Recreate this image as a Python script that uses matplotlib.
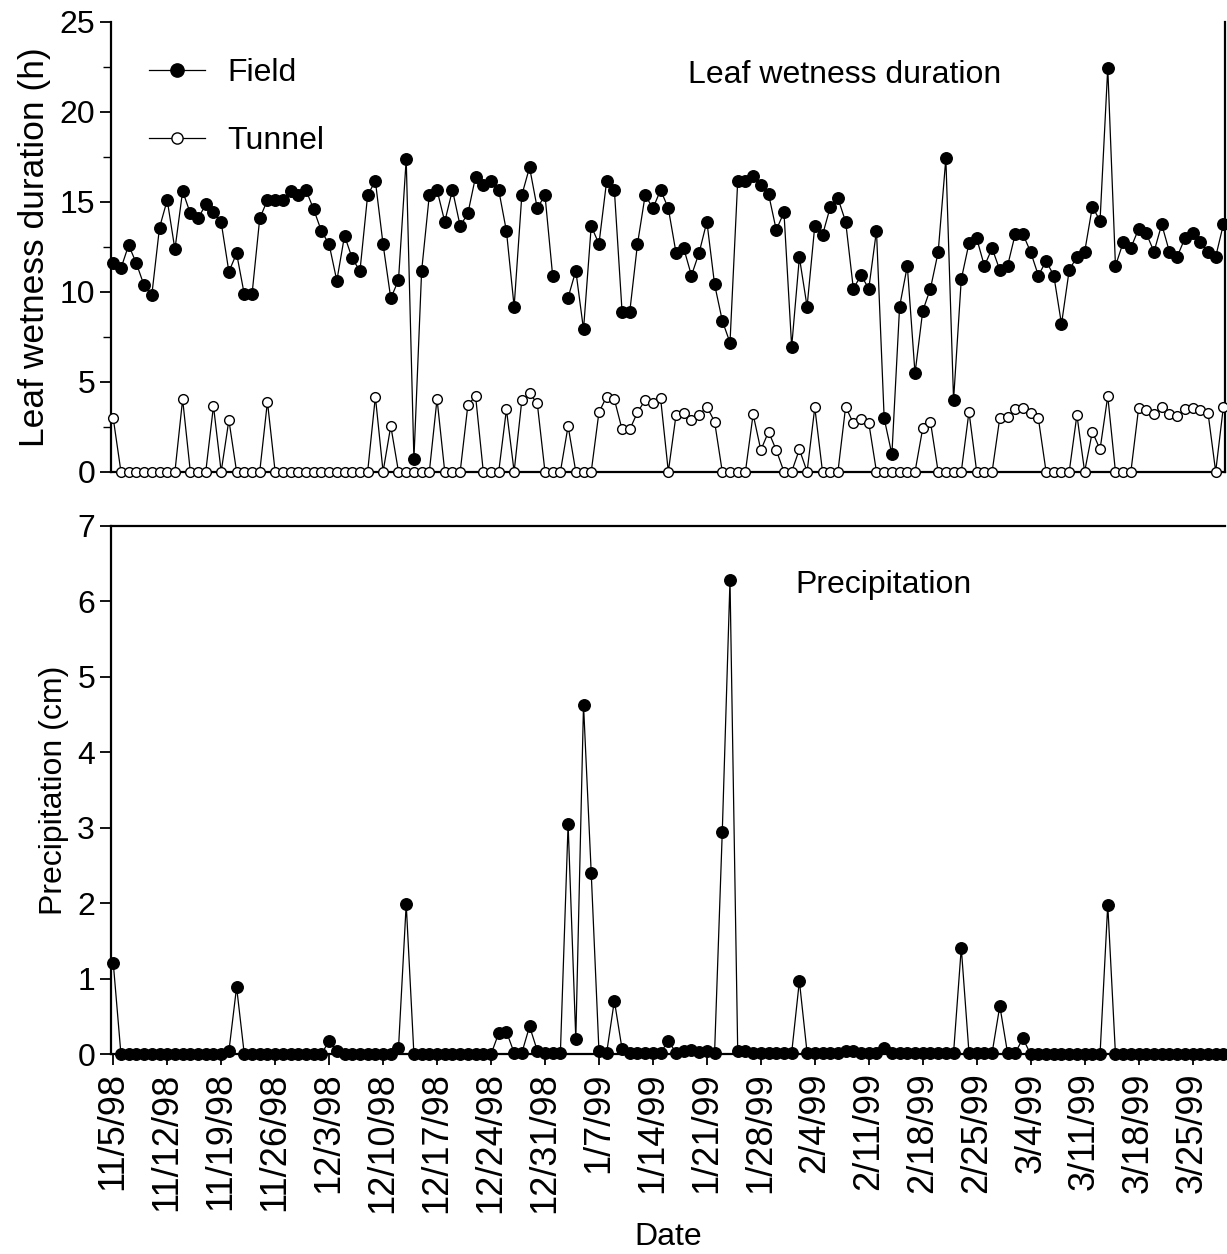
import numpy as np
import pandas as pd
import matplotlib
matplotlib.use("Agg")
import matplotlib.pyplot as plt

plt.rcParams['font.family'] = ['Liberation Sans', 'DejaVu Sans']

start_date = "1998-11-05"
field = [11.61, 11.30, 12.59, 11.57, 10.35, 9.81, 13.56, 15.09, 12.35, 15.59,
         14.35, 14.07, 14.85, 14.41, 13.85, 11.11, 12.13, 9.85, 9.85, 14.07,
         15.09, 15.09, 15.09, 15.59, 15.37, 15.65, 14.57, 13.37, 12.63, 10.61,
         13.11, 11.85, 11.15, 15.37, 16.15, 12.63, 9.63, 10.65, 17.37, 0.69,
         11.15, 15.37, 15.65, 13.89, 15.65, 13.65, 14.35, 16.39, 15.93, 16.15,
         15.65, 13.37, 9.17, 15.37, 16.91, 14.63, 15.37, 10.87, np.nan, 9.67,
         11.17, 7.90, 13.65, 12.65, 16.15, 15.65, 8.89, 8.89, 12.65, 15.37,
         14.63, 15.65, 14.63, 12.16, 12.41, 10.90, 12.17, 13.89, 10.41, 8.39,
         7.17, 16.15, 16.15, 16.43, 15.93, 15.43, 13.43, 14.41, 6.94, 11.91,
         9.17, 13.67, 13.15, 14.69, 15.19, 13.89, 10.17, 10.91, 10.17, 13.39,
         2.96, 0.96, 9.17, 11.43, 5.46, 8.93, 10.17, 12.19, 17.41, 3.98,
         10.69, 12.69, 12.96, 11.43, 12.41, 11.20, 11.43, 13.20, 13.20, 12.20,
         10.90, 11.70, 10.90, 8.20, 11.20, 11.94, 12.20, 14.72, 13.94, 22.44,
         11.43, 12.74, 12.44, 13.48, 13.24, 12.22, 13.74, 12.22, 11.94, 12.96,
         13.24, 12.74, 12.22, 11.94, 13.74]
tunnel = [2.96, 0, 0, 0, 0, 0, 0, 0, 0, 4.02,
          0, 0, 0, 3.65, 0, 2.87, 0, 0, 0, 0,
          3.89, 0, 0, 0, 0, 0, 0, 0, 0, 0,
          0, 0, 0, 0, 4.17, 0, 2.54, 0, 0, 0,
          0, 0, 4.04, 0, 0, 0, 3.70, 4.20, 0, 0,
          0, 3.46, 0, 3.98, 4.35, 3.80, 0, 0, 0, 2.54,
          0, 0, 0, 3.30, 4.17, 4.02, 2.35, 2.35, 3.30, 3.98,
          3.80, 4.07, 0, 3.15, 3.28, 2.87, 3.15, 3.61, 2.78, 0,
          0, 0, 0, 3.19, 1.20, 2.22, 1.20, 0, 0, 1.24,
          0, 3.57, 0, 0, 0, 3.61, 2.69, 2.91, 2.72, 0,
          0, 0, 0, 0, 0, 2.41, 2.78, 0, 0, 0,
          0, 3.33, 0, 0, 0, 3.00, 3.06, 3.46, 3.52, 3.28,
          2.96, 0, 0, 0, 0, 3.15, 0, 2.22, 1.24, 4.20,
          0, 0, 0, 3.52, 3.43, 3.19, 3.61, 3.19, 3.11, 3.46,
          3.52, 3.43, 3.28, 0, 3.61]
precip = [1.21, 0, 0, 0, 0, 0, 0, 0, 0, 0,
          0, 0, 0, 0, 0, 0.04, 0.89, 0, 0, 0,
          0, 0, 0, 0, 0, 0, 0, 0, 0.18, 0.05,
          0, 0, 0, 0, 0, 0, 0, 0.08, 1.99, 0,
          0, 0, 0, 0, 0, 0, 0, 0, 0, 0,
          0.28, 0.30, 0.02, 0.02, 0.37, 0.05, 0.02, 0.02, 0.02, 3.05,
          0.20, 4.63, 2.40, 0.05, 0.02, 0.71, 0.07, 0.02, 0.02, 0.02,
          0.02, 0.02, 0.18, 0.02, 0.05, 0.06, 0.03, 0.05, 0.02, 2.95,
          6.28, 0.05, 0.05, 0.02, 0.02, 0.02, 0.02, 0.02, 0.02, 0.97,
          0.02, 0.02, 0.02, 0.02, 0.02, 0.05, 0.05, 0.02, 0.02, 0.02,
          0.09, 0.02, 0.02, 0.02, 0.02, 0.02, 0.02, 0.02, 0.02, 0.02,
          1.41, 0.02, 0.02, 0.02, 0.02, 0.64, 0.02, 0.02, 0.21, 0,
          0, 0, 0, 0, 0, 0, 0, 0, 0, 1.98,
          0, 0, 0, 0, 0, 0, 0, 0, 0, 0,
          0, 0, 0, 0, 0]
tick_labels = ["11/5/98", "11/12/98", "11/19/98", "11/26/98", "12/3/98", "12/10/98",
               "12/17/98", "12/24/98", "12/31/98", "1/7/99", "1/14/99", "1/21/99",
               "1/28/99", "2/4/99", "2/11/99", "2/18/99", "2/25/99", "3/4/99",
               "3/11/99", "3/18/99", "3/25/99"]

dates = pd.date_range(start_date, periods=len(field), freq="D")
tick_dates = pd.date_range(start_date, periods=len(tick_labels), freq="7D")

FS = 23
W, H = 1227, 1254
fig = plt.figure(figsize=(W / 100, H / 100), dpi=100)

def frac(x0, x1, ytop, ybot):
    return [x0 / W, 1 - ybot / H, (x1 - x0) / W, (ybot - ytop) / H]

ax1 = fig.add_axes(frac(111, 1225, 21.7, 471.7))
ax2 = fig.add_axes(frac(111, 1225, 525.8, 1054.3))

lw = 0.9
ax1.plot(dates, field, '-', color='black', lw=lw, marker='o', ms=8.3,
         mfc='black', mec='black', label='Field', clip_on=False, zorder=3)
ax1.plot(dates, tunnel, '-', color='black', lw=lw, marker='o', ms=7.0,
         mfc='white', mec='black', mew=1.0, label='Tunnel', clip_on=False, zorder=3)
ax2.plot(dates, precip, '-', color='black', lw=lw, marker='o', ms=8.3,
         mfc='black', mec='black', clip_on=False, zorder=3)

x0 = dates[0] - pd.Timedelta(hours=7)
x1 = dates[-1] + pd.Timedelta(hours=5)
for ax in (ax1, ax2):
    ax.set_xlim(x0, x1)
    for s in ax.spines.values():
        s.set_linewidth(1.6)
    ax.tick_params(axis='both', labelsize=FS, width=1.3, length=8, direction='out')

ax1.set_ylim(0, 25)
ax1.set_yticks([0, 5, 10, 15, 20, 25])
ax1.set_yticks(np.arange(0, 25.1, 2.5), minor=True)
ax1.tick_params(axis='y', which='minor', length=6, width=1.0)
ax1.set_xticks([])
ax1.spines['top'].set_visible(False)
ax1.set_ylabel('Leaf wetness duration (h)', fontsize=25.5, labelpad=6)

ax2.set_ylim(0, 7)
ax2.set_yticks(range(0, 8))
ax2.set_xticks(tick_dates)
ax2.set_xticklabels(tick_labels, rotation=90, fontsize=26)
ax2.tick_params(axis='x', pad=5)
ax2.spines['right'].set_visible(False)
ax2.set_ylabel('Precipitation (cm)', fontsize=FS, labelpad=6)
ax2.set_xlabel('Date', fontsize=FS, labelpad=6)

ax1.legend(loc='upper left', bbox_to_anchor=(0.034, 0.92), frameon=False,
           fontsize=FS, handlelength=1.75, handletextpad=0.7, labelspacing=1.2,
           borderaxespad=0, borderpad=0, markerscale=1.15)
ax1.text(0.518, 0.882, 'Leaf wetness duration', transform=ax1.transAxes,
         fontsize=FS, ha='left', va='center')
ax2.text(0.614, 0.888, 'Precipitation', transform=ax2.transAxes,
         fontsize=FS, ha='left', va='center')

fig.savefig('out.png', dpi=100)
